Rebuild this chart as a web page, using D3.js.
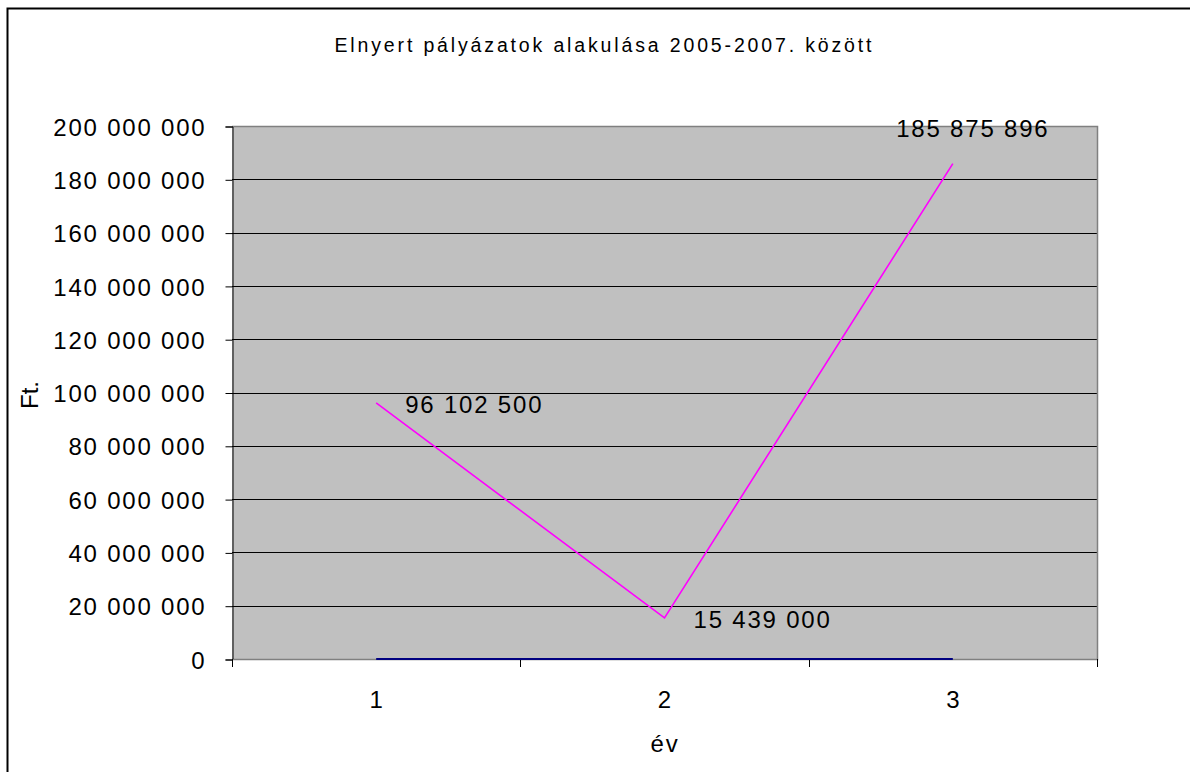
<!DOCTYPE html>
<html>
<head>
<meta charset="utf-8">
<script src="https://cdn.jsdelivr.net/npm/d3@7"></script>
<style>
  body { margin: 0; background: #fff; }
  text { font-family: "Liberation Sans", Arial, sans-serif; fill: #000; }
</style>
</head>
<body>
<svg id="chart" width="1190" height="772"></svg>
<script>
// data
const years = ['1', '2', '3']
const amounts = [96102500, 15439000, 185875896]
const zeroSeries = [0, 0, 0]
const yTicks = [0, 20e6, 40e6, 60e6, 80e6, 100e6, 120e6, 140e6, 160e6, 180e6, 200e6]

const titleText = 'Elnyert pályázatok alakulása 2005-2007. között'
const xTitle = 'év'
const yTitle = 'Ft.'

const svg = d3.select('#chart')
const W = +svg.attr('width'), H = +svg.attr('height')
const FS = 24, LS = '1.8px'

// frame around chart
svg.append('rect')
    .attr('x', 7.5).attr('y', 8.5)
    .attr('width', W + 10).attr('height', H + 10)
    .attr('fill', 'none').attr('stroke', '#000').attr('stroke-width', 2)

const plot = {left: 232, top: 126, right: 1097, bottom: 659}

const x = d3.scaleBand().domain(years).range([plot.left, plot.right])
const y = d3.scaleLinear().domain([0, 200e6]).range([plot.bottom, plot.top])

const fmt = v => d3.format(',')(v).replace(/,/g, ' ')

// plot background
svg.append('rect')
    .attr('x', plot.left).attr('y', plot.top)
    .attr('width', plot.right - plot.left).attr('height', plot.bottom - plot.top)
    .attr('fill', '#c0c0c0')

// gridlines
svg.append('g').selectAll('line').data(yTicks.filter(t => t > 0 && t < 200e6)).enter().append('line')
    .attr('x1', plot.left).attr('x2', plot.right)
    .attr('y1', d => Math.round(y(d)) + 0.5).attr('y2', d => Math.round(y(d)) + 0.5)
    .attr('stroke', '#000').attr('stroke-width', 1)

// plot border (grey top/right)
svg.append('path')
    .attr('d', `M${plot.left},${plot.top + 0.5}H${plot.right + 0.5}V${plot.bottom + 0.5}H${plot.left}`)
    .attr('fill', 'none').attr('stroke', '#808080').attr('stroke-width', 1.5)

// y axis
const yAxis = svg.append('g')
    .attr('transform', `translate(${plot.left + 0.5},0.5)`)
    .call(d3.axisLeft(y).tickValues(yTicks).tickSize(7).tickPadding(19).tickFormat(fmt))
yAxis.select('.domain').attr('stroke', '#000')
yAxis.selectAll('.tick line').attr('stroke', '#000')
yAxis.selectAll('text')
    .attr('font-size', FS)
    .attr('font-family', '"Liberation Sans", Arial, sans-serif')
    .attr('fill', '#000')
    .style('letter-spacing', LS)
    .attr('dy', '0.36em')

// x axis: ticks at band edges, labels at centres
const xEdges = years.map(d => x(d)).concat([x.range()[1]])
const xAxisG = svg.append('g')
xAxisG.append('line')
    .attr('x1', plot.left).attr('x2', plot.right + 1)
    .attr('y1', plot.bottom + 0.5).attr('y2', plot.bottom + 0.5)
    .attr('stroke', '#808080')
xAxisG.selectAll('.xt').data(xEdges).enter().append('line')
    .attr('x1', d => Math.round(d) + 0.5).attr('x2', d => Math.round(d) + 0.5)
    .attr('y1', plot.bottom).attr('y2', plot.bottom + 8)
    .attr('stroke', '#000')
xAxisG.selectAll('.xl').data(years).enter().append('text')
    .attr('x', d => x(d) + x.bandwidth() / 2)
    .attr('y', 708)
    .attr('text-anchor', 'middle')
    .attr('font-size', FS)
    .text(d => d)

// zero series (navy)
const line = d3.line()
    .x((d, i) => x(years[i]) + x.bandwidth() / 2)
    .y(d => y(d))

svg.append('path')
    .datum(zeroSeries)
    .attr('d', line)
    .attr('fill', 'none').attr('stroke', '#000080').attr('stroke-width', 2)

// main series (magenta)
svg.append('path')
    .datum(amounts)
    .attr('d', line)
    .attr('fill', 'none').attr('stroke', '#ff00ff').attr('stroke-width', 1.6)

// data labels: right of point, except the last one which sits above
const last = amounts.length - 1
svg.append('g').selectAll('text').data(amounts).enter().append('text')
    .attr('x', (d, i) => x(years[i]) + x.bandwidth() / 2 + (i === last ? 20 : 29))
    .attr('y', (d, i) => y(d) + (i === last ? -27 : 10))
    .attr('text-anchor', (d, i) => i === last ? 'middle' : 'start')
    .attr('font-size', FS)
    .style('letter-spacing', LS)
    .text(d => fmt(d))

// title
svg.append('text')
    .attr('x', 603).attr('y', 52)
    .attr('text-anchor', 'middle')
    .attr('font-size', 19.5)
    .attr('textLength', 537)
    .attr('lengthAdjust', 'spacing')
    .text(titleText)

// axis titles
svg.append('text')
    .attr('x', 665).attr('y', 752)
    .attr('text-anchor', 'middle')
    .attr('font-size', FS)
    .style('letter-spacing', LS)
    .text(xTitle)

svg.append('text')
    .attr('transform', 'translate(38,395) rotate(-90)')
    .attr('text-anchor', 'middle')
    .attr('font-size', FS)
    .text(yTitle)
</script>
</body>
</html>
